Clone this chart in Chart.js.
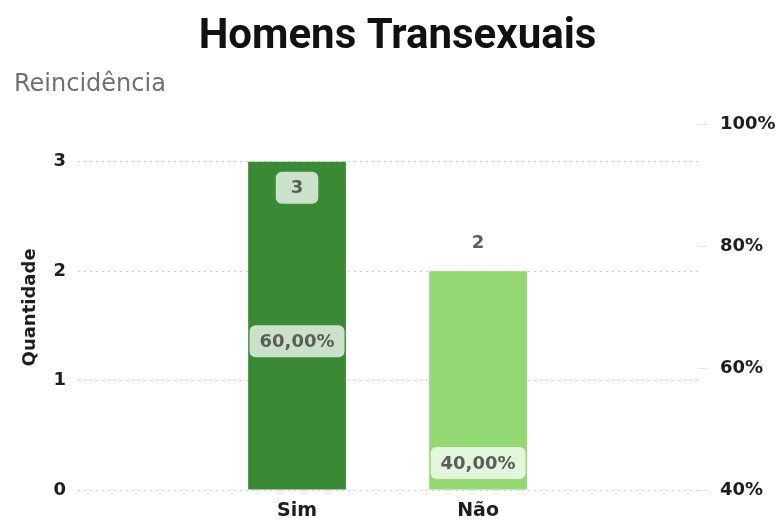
<!DOCTYPE html>
<html lang="pt-BR">
<head>
<meta charset="utf-8">
<title>Homens Transexuais</title>
<script src="https://cdn.jsdelivr.net/npm/chart.js@4/dist/chart.umd.min.js"></script>
<style>
  html, body { margin: 0; padding: 0; background: #fff; }
  #wrap { width: 781px; height: 520px; }
</style>
</head>
<body>
<div id="wrap"><canvas id="grafico" width="781" height="520"></canvas></div>
<script>
// ===== dados =====
const categorias = ['Sim', 'Não'];
const quantidades = [3, 2];
const percentuais = [60, 40];
const coresBarras = ['#3a8a35', '#93d873'];

const corTexto = '#1e1e1e';
const corRotulo = '#5a5e5a';
const corGrade = '#d0d0d0';
const fonteEixo = '"DejaVu Sans", sans-serif';

// rótulos de dados (quantidade e percentual)
function caixaArredondada(ctx, x, y, w, h, r) {
    ctx.beginPath();
    ctx.moveTo(x + r, y);
    ctx.arcTo(x + w, y, x + w, y + h, r);
    ctx.arcTo(x + w, y + h, x, y + h, r);
    ctx.arcTo(x, y + h, x, y, r);
    ctx.arcTo(x, y, x + w, y, r);
    ctx.closePath();
    ctx.fill();
}

const rotulosPlugin = {
    id: 'rotulos',
    afterDatasetsDraw(chart) {
        const ctx = chart.ctx;
        const area = chart.chartArea;
        ctx.save();
        ctx.font = 'bold 18px ' + fonteEixo;
        ctx.textAlign = 'center';
        ctx.textBaseline = 'middle';

        // quantidades
        chart.getDatasetMeta(0).data.forEach((bar, i) => {
            const txt = String(quantidades[i]);
            const w = ctx.measureText(txt).width + 30;
            const h = 32;
            if (bar.y - area.top < 45) {
                const cy = bar.y + 26;
                ctx.fillStyle = 'rgba(255,255,255,0.74)';
                caixaArredondada(ctx, bar.x - w / 2, cy - h / 2, w, h, 6);
                ctx.fillStyle = corRotulo;
                ctx.fillText(txt, bar.x, cy + 1);
            } else {
                ctx.fillStyle = corRotulo;
                ctx.fillText(txt, bar.x, bar.y - 28);
            }
        });

        // percentuais
        chart.getDatasetMeta(1).data.forEach((pt, i) => {
            const txt = percentuais[i].toFixed(2).replace('.', ',') + '%';
            const w = ctx.measureText(txt).width + 20;
            const h = 32;
            const cy = pt.y - 27;
            ctx.fillStyle = 'rgba(255,255,255,0.74)';
            caixaArredondada(ctx, pt.x - w / 2, cy - h / 2, w, h, 6);
            ctx.fillStyle = corRotulo;
            ctx.fillText(txt, pt.x, cy + 1);
        });
        ctx.restore();
    }
};

new Chart(document.getElementById('grafico'), {
    data: {
        datasets: [
            {
                type: 'bar',
                label: 'Quantidade',
                data: quantidades.map((v, i) => ({ x: i, y: v })),
                backgroundColor: coresBarras,
                borderWidth: 0,
                categoryPercentage: 1,
                barPercentage: 0.54,
                yAxisID: 'y',
                order: 2,
            },
            {
                type: 'line',
                label: '%',
                data: percentuais.map((v, i) => ({ x: i, y: v })),
                showLine: false,
                pointRadius: 0,
                pointHoverRadius: 0,
                yAxisID: 'y1',
                order: 1,
            }
        ]
    },
    options: {
        responsive: false,
        animation: false,
        layout: { padding: { left: 14, right: 0, top: 0, bottom: 0 } },
        scales: {
            x: {
                type: 'linear',
                min: -1.21,
                max: 2.215,
                offset: false,
                grid: { display: false, drawTicks: false },
                border: { display: false },
                afterBuildTicks: s => { s.ticks = categorias.map((_, i) => ({ value: i })); },
                ticks: {
                    color: corTexto,
                    padding: 10,
                    font: { family: fonteEixo, size: 19, weight: 'bold' },
                    callback: v => categorias[v] ?? '',
                },
                afterFit: s => { s.height = 30; },
            },
            y: {
                position: 'left',
                min: 0,
                max: 3.338,
                afterBuildTicks: s => { s.ticks = s.ticks.filter(t => Number.isInteger(t.value)); },
                ticks: {
                    stepSize: 1,
                    color: corTexto,
                    padding: 12,
                    font: { family: fonteEixo, size: 18, weight: 'bold' },
                },
                grid: { color: corGrade, drawTicks: false, lineWidth: 1 },
                border: { display: false, dash: [2, 4] },
                title: {
                    display: true,
                    text: 'Quantidade',
                    color: corTexto,
                    padding: { top: 6, bottom: 0 },
                    font: { family: fonteEixo, size: 18, weight: 'bold' },
                },
                afterFit: s => { s.width = 64; },
            },
            y1: {
                position: 'right',
                min: 40,
                max: 100,
                ticks: {
                    stepSize: 20,
                    color: corTexto,
                    padding: 12,
                    font: { family: fonteEixo, size: 18, weight: 'bold' },
                    callback: v => v + '%',
                },
                grid: { drawOnChartArea: false, drawTicks: true, tickLength: 10, tickColor: '#e4e4e4' },
                border: { display: false },
                afterFit: s => { s.width = 83; },
            }
        },
        plugins: {
            legend: { display: false },
            tooltip: { enabled: false },
            title: {
                display: true,
                text: 'Homens Transexuais',
                color: '#111',
                padding: { top: 12, bottom: 0 },
                font: { family: 'Roboto', size: 42, weight: 'bold' },
            },
            subtitle: {
                display: true,
                text: 'Reincidência',
                align: 'start',
                color: '#707070',
                padding: { top: 8, bottom: 25.6 },
                font: { family: fonteEixo, size: 24, weight: 'normal' },
            }
        }
    },
    plugins: [rotulosPlugin]
});
</script>
</body>
</html>
